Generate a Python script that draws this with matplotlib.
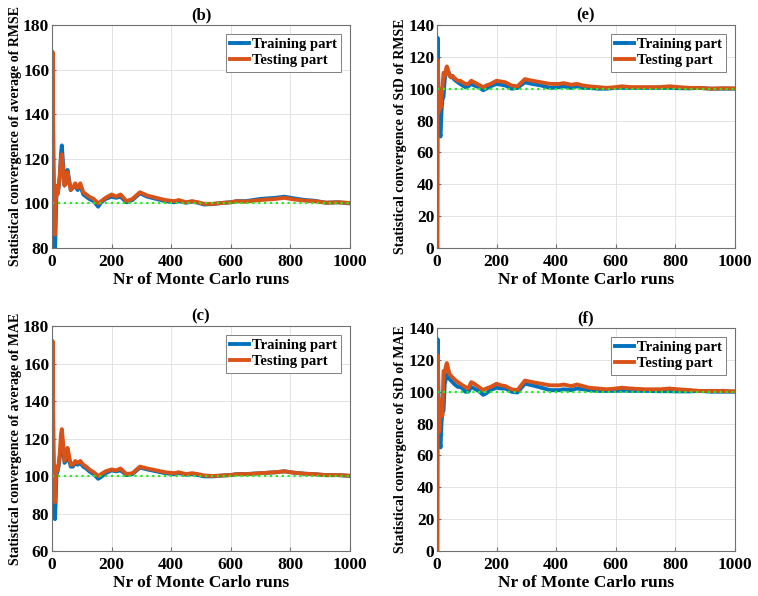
import matplotlib
matplotlib.use('Agg')
import matplotlib.pyplot as plt

plt.rcParams['font.family'] = ['Liberation Serif', 'DejaVu Serif']
plt.rcParams['font.weight'] = 'bold'

runs = [1, 2, 3, 5, 8, 10, 12, 15, 18, 22, 26, 30, 33, 37, 42, 47, 52, 57, 63, 70,
        78, 86, 95, 105, 115, 125, 140, 155, 165, 180, 200, 215, 230, 250, 270, 295, 320, 350, 380, 410,
        425, 450, 470, 490, 510, 540, 570, 600, 620, 650, 700, 750, 780, 810, 850, 880, 920, 960, 1000]

# (b) average of RMSE
b_train = [110, 165, 140, 110, 85, 78, 88, 105, 104, 107, 112, 122, 126, 118, 108, 110, 115, 111, 106, 107,
           108, 106, 108, 104, 103, 102, 101, 98.5, 100.5, 102, 103, 102.5, 103, 100.5, 101.5, 104.5, 103, 102, 101, 100.5,
           101, 100.3, 100.8, 100.3, 99.5, 99.7, 100.2, 100.5, 101, 101, 102, 102.5, 103, 102.3, 101.5, 101.2, 100.3, 100.5, 100]
b_test = [110, 168, 150, 120, 95, 86, 100, 108, 104, 107, 112, 120, 122, 116, 108, 109, 114, 110, 106, 107,
          109, 107, 109, 105, 104, 103, 102, 100, 101, 102.5, 104, 103, 104, 101, 102, 105, 103.5, 102.5, 101.5, 101,
          101.5, 100.5, 101, 100.5, 99.8, 99.8, 100.2, 100.5, 101, 100.8, 101.5, 102, 102.5, 101.8, 101.2, 101, 100.3, 100.5, 100.2]

# (e) StD of RMSE
e_train = [0, 132, 120, 100, 85, 72, 70, 85, 93, 95, 106, 110, 112, 111, 109, 108, 108, 106, 105, 104,
           103, 102, 101, 101.5, 103, 102, 101, 99, 100, 101.5, 103, 102.5, 102, 100, 100.5, 104, 103, 102, 100.5, 101,
           101.5, 100.5, 101.5, 100.5, 100.5, 100, 100, 100.5, 100.5, 100.5, 100.5, 100.5, 100.5, 100.3, 100.2, 100.5, 100, 100, 100]
e_test = [0, 118, 95, 85, 100, 95, 88, 95, 100, 110, 108, 112, 114, 112, 108, 107, 108, 107, 106, 105,
          105, 104, 103, 103, 105, 104, 102.5, 101, 102, 103, 105, 104.5, 104, 102, 101.5, 106, 105, 104, 103, 103,
          103.5, 102.5, 103, 102, 101.5, 101, 100.5, 101, 101.5, 101, 101, 101, 101.5, 101, 100.5, 100.5, 100, 100.3, 100.2]

# (c) average of MAE
c_train = [110, 168, 140, 105, 85, 77, 85, 102, 102, 105, 110, 115, 118, 115, 107, 108, 113, 109, 105, 105,
           107, 106, 107, 105, 104, 102.5, 101, 98.5, 99.5, 101.5, 103, 102.5, 103, 100.5, 101, 104.5, 103.5, 102.5, 101.5, 101,
           101.5, 100.7, 101, 100.5, 99.8, 99.8, 100.2, 100.5, 101, 101, 101.5, 102, 102.5, 101.8, 101.2, 101, 100.4, 100.5, 100]
c_test = [110, 172, 150, 115, 95, 86, 98, 105, 103, 106, 112, 122, 125, 118, 108, 110, 115, 111, 106, 106,
          108, 107, 108, 106, 105, 103.5, 102, 100, 101, 102.5, 103.5, 103, 104, 101, 101.5, 105, 104, 103, 102, 101.5,
          102, 101, 101.5, 101, 100.3, 100, 100.3, 100.5, 101, 101, 101.5, 102, 102.5, 101.8, 101.2, 101, 100.5, 100.5, 100.2]

# (f) StD of MAE
f_train = [0, 133, 120, 100, 80, 68, 65, 80, 87, 88, 105, 108, 111, 110, 108, 107, 106, 105, 104, 103,
           103, 102, 100, 100, 103, 102, 100.5, 98, 99, 101, 102.5, 102, 102, 100, 99.5, 105, 104, 102.5, 101, 101,
           101.5, 101, 102, 101.5, 101, 100.5, 100.5, 100.5, 100.7, 100.5, 100.5, 100.3, 100.3, 100.2, 100.2, 100.5, 100, 100, 100]
f_test = [0, 123, 100, 80, 75, 90, 95, 92, 85, 113, 112, 116, 118, 115, 111, 110, 109, 108, 107, 106,
          105, 104, 103, 102, 106, 105, 103, 101, 102, 103, 105, 104, 103.5, 101.5, 101, 107, 106, 105, 104, 104,
          104.5, 103.5, 104.5, 103.5, 102.5, 102, 101.5, 102, 102.5, 102, 101.5, 101.5, 102, 101.5, 101, 100.5, 100.5, 100.5, 100.2]

panels = [
    ('(b)', 'Statistical convergence of average of RMSE', b_train, b_test, (80, 180), range(80, 181, 20)),
    ('(e)', 'Statistical convergence of StD of RMSE', e_train, e_test, (0, 140), range(0, 141, 20)),
    ('(c)', 'Statistical convergence of average of MAE', c_train, c_test, (60, 180), range(60, 181, 20)),
    ('(f)', 'Statistical convergence of StD of MAE', f_train, f_test, (0, 140), range(0, 141, 20)),
]
boxes = [[0.0686, 0.5839, 0.3931, 0.3742],
         [0.5765, 0.5839, 0.3931, 0.3742],
         [0.0686, 0.0755, 0.3931, 0.3775],
         [0.5765, 0.0755, 0.3931, 0.3742]]

fig = plt.figure(figsize=(7.58, 5.96), dpi=100)
for box, (title, ylab, tr, te, ylim, yt) in zip(boxes, panels):
    ax = fig.add_axes(box)
    ax.plot(runs, tr, color='#0072BD', lw=2.8, label='Training part')
    ax.plot(runs, te, color='#D95319', lw=2.8, label='Testing part')
    ax.plot([0, 1000], [100, 100], color='#22ee22', lw=1.6, ls=':')
    ax.set_xlim(0, 1000)
    ax.set_ylim(*ylim)
    ax.set_xticks(range(0, 1001, 200))
    ax.set_yticks(list(yt))
    ax.grid(True, color='#e3e3e3', lw=0.7)
    ax.set_axisbelow(True)
    for s in ax.spines.values():
        s.set_color('#707070')
        s.set_linewidth(0.8)
    ax.tick_params(direction='in', length=3, color='#707070', labelsize=12.5, pad=2)
    ax.tick_params(axis='x', pad=4)
    for t in ax.get_xticklabels() + ax.get_yticklabels():
        t.set_fontweight('bold')
    ax.set_title(title, fontsize=12, fontweight='bold', pad=4)
    ax.set_xlabel('Nr of Monte Carlo runs', fontsize=12.5, fontweight='bold', labelpad=2)
    ax.set_ylabel(ylab, fontsize=10, fontweight='bold', labelpad=1)
    leg = ax.legend(loc='upper right', handlelength=1.3, handletextpad=0.2,
                    borderpad=0.3, labelspacing=0.2, fancybox=False, framealpha=1,
                    borderaxespad=0.6, prop={'size': 10.5, 'weight': 'bold'})
    leg.get_frame().set_edgecolor('#808080')
    leg.get_frame().set_linewidth(0.7)

fig.savefig('out.png', dpi=100)
